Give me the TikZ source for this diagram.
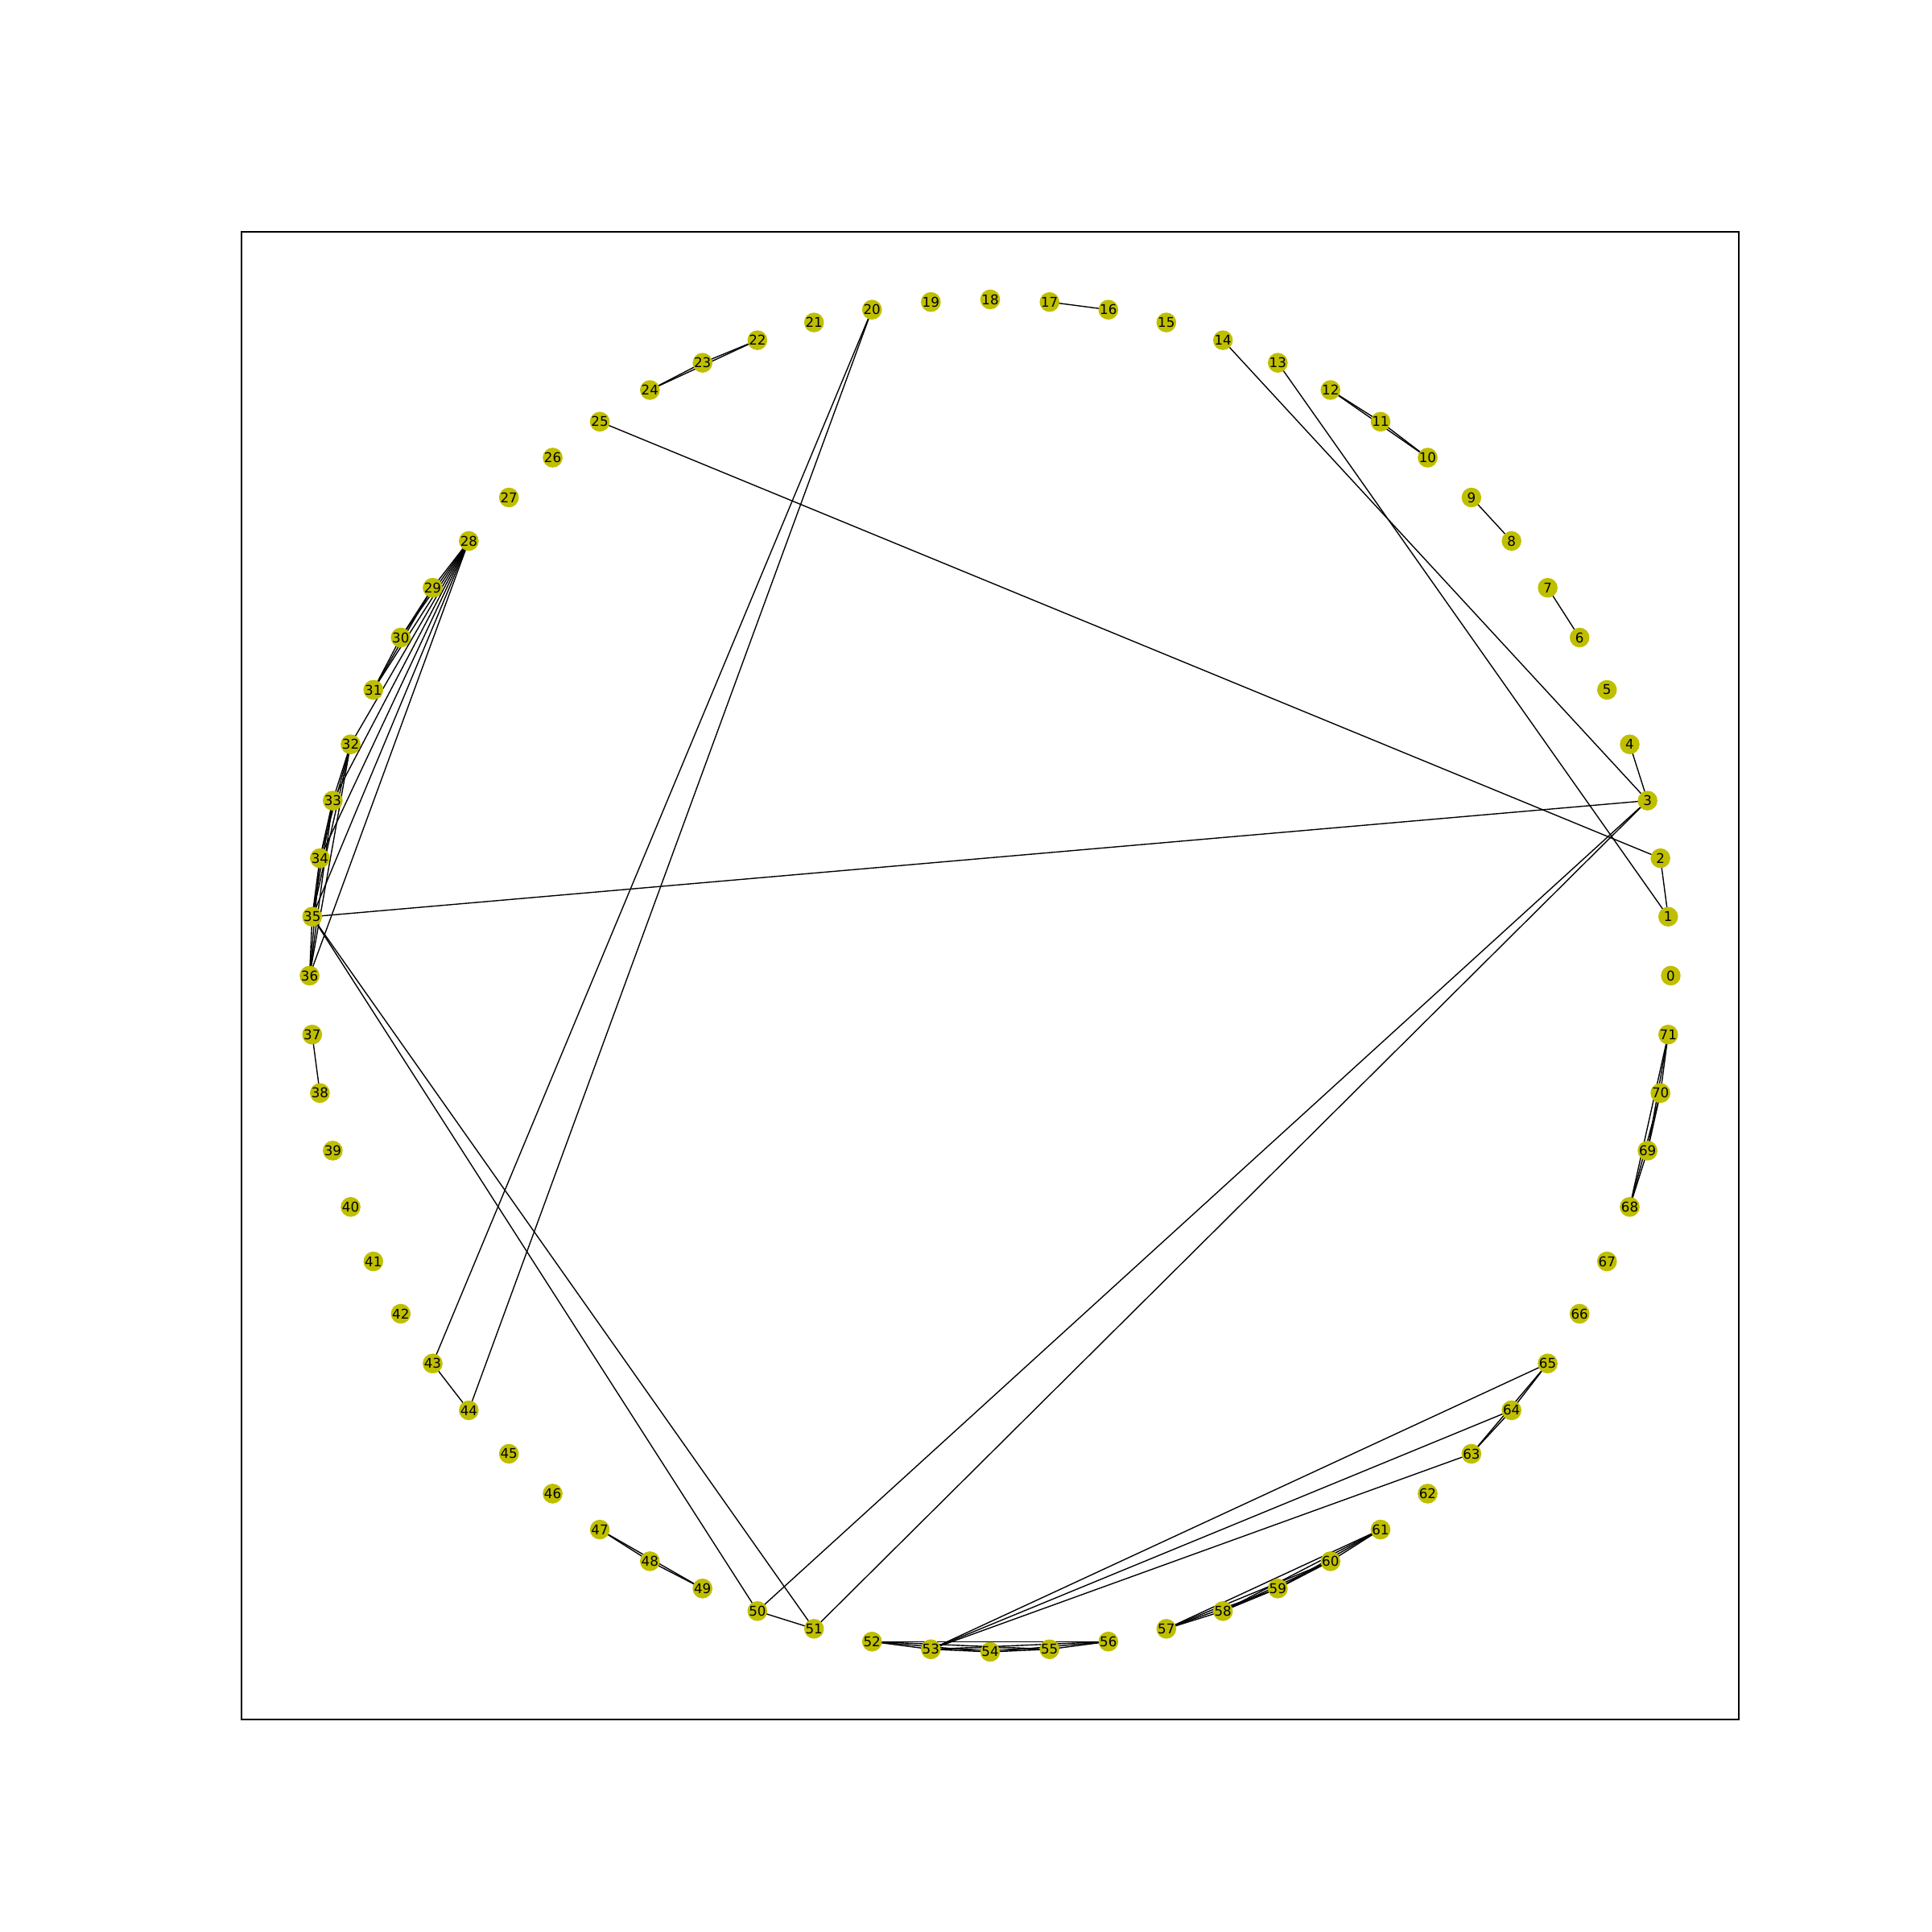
\documentclass[tikz,border=0pt]{standalone}
\usepackage{fontspec}
\setmainfont{DejaVu Sans}
\usetikzlibrary{backgrounds}
\definecolor{nodey}{rgb}{0.75,0.75,0}
\begin{document}
\begin{tikzpicture}[
  vtx/.style={circle,fill=nodey,minimum size=0.245cm,inner sep=0pt,font=\fontsize{4.74}{5}\selectfont},
  edge/.style={line width=0.394pt,black}]
\useasboundingbox (0,0) rectangle (24,24);
\draw[line width=0.315pt] (3,2.64) rectangle (21.6,21.12);
\foreach \i in {0,...,71}{
  \node[vtx] (n\i) at ({12.3+8.4545*cos(5*\i)},{11.88+8.4*sin(5*\i)}) {\i};
}
\begin{scope}[on background layer]
\foreach \lo/\hi in {10/12,22/24,47/49,28/31,32/36,52/56,57/61,63/65,68/71}{
  \foreach \x in {\lo,...,\hi}{
    \foreach \y in {\lo,...,\hi}{
      \ifnum\x<\y \draw[edge] (n\x.center) -- (n\y.center);\fi
    }
  }
}
\foreach \a/\b in {28/32,28/33,28/34,28/35,28/36,1/2,3/4,6/7,8/9,16/17,37/38,43/44,50/51,2/25,3/14,1/13,3/35,3/50,3/51,35/50,35/51,20/43,20/44,53/63,53/64,53/65}{
  \draw[edge] (n\a.center) -- (n\b.center);
}
\end{scope}
\end{tikzpicture}
\end{document}
